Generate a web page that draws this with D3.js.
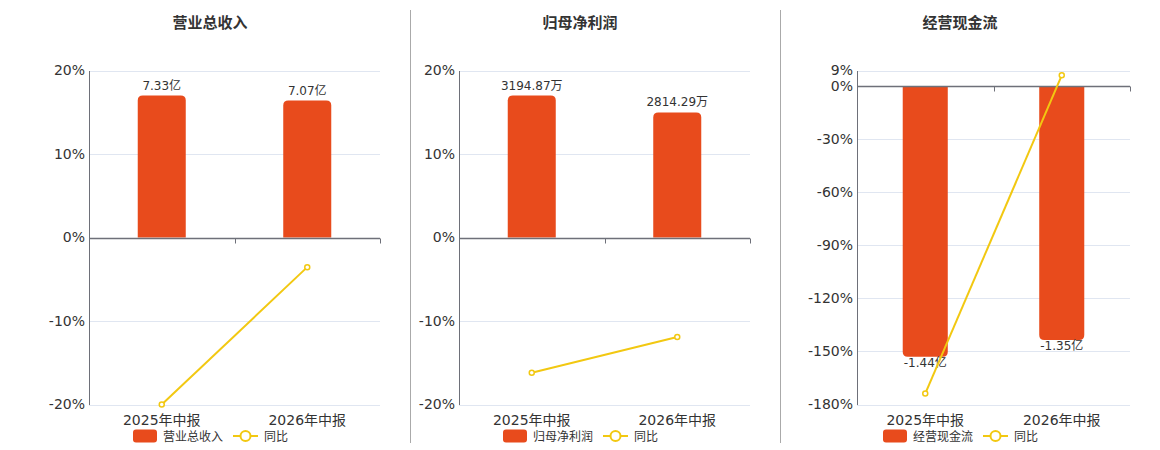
<!DOCTYPE html>
<html><head><meta charset="utf-8">
<script src="https://cdn.jsdelivr.net/npm/d3@7/dist/d3.min.js"></script>
<style>
html,body{margin:0;padding:0;background:#fff;}
svg{display:block;font-family:"DejaVu Sans","Noto Sans CJK SC",sans-serif;}
</style></head>
<body><svg id="c" width="1160" height="450"></svg>
<script>
const categories = ["2025年中报", "2026年中报"];
const titles = ["营业总收入", "归母净利润", "经营现金流"];
const barValues1 = [7.33, 7.07];
const barValues2 = [3194.87, 2814.29];
const barValues3 = [-1.44, -1.35];
const barLabels1 = ["7.33亿", "7.07亿"];
const barLabels2 = ["3194.87万", "2814.29万"];
const barLabels3 = ["-1.44亿", "-1.35亿"];
const yoy1 = [-20.0, -3.55];
const yoy2 = [-16.2, -11.91];
const yoy3 = [-173.8, 6.25];
const ticks1 = [20, 10, 0, -10, -20];
const ticks2 = [20, 10, 0, -10, -20];
const ticks3 = [9, 0, -30, -60, -90, -120, -150, -180];
const legendYoy = "同比";

const panels = [
  {title: titles[0], bars: barValues1, labels: barLabels1, yoy: yoy1, ticks: ticks1, left: 89, right: 380, cx: 210},
  {title: titles[1], bars: barValues2, labels: barLabels2, yoy: yoy2, ticks: ticks2, left: 459, right: 750, cx: 580},
  {title: titles[2], bars: barValues3, labels: barLabels3, yoy: yoy3, ticks: ticks3, left: 857, right: 1130, cx: 960}
];

const BAR = "#e84b1c", LINE = "#f2c811", TXT = "#333", GRID = "#e0e6f1", AXIS = "#6e7079";
const svg = d3.select("#c");
const plotTop = 70.5, plotBottom = 404.5;

// separators
[410.5, 780.5].forEach(x => svg.append("line").attr("x1", x).attr("x2", x).attr("y1", 10).attr("y2", 443).attr("stroke", "#aaa").attr("stroke-width", 1));

panels.forEach(p => {
  const g = svg.append("g");
  const tmin = d3.min(p.ticks), tmax = d3.max(p.ticks);
  const y = d3.scaleLinear().domain([tmin, tmax]).range([plotBottom, plotTop]);
  const x = d3.scaleBand().domain(categories).range([p.left, p.right]).paddingInner(0.67).paddingOuter(0.335);
  const xc = d3.scaleBand().domain(categories).range([p.left, p.right]);
  const maxAbs = d3.max(p.bars, d => Math.abs(d));
  const neg = p.bars[0] < 0;
  const yb = d3.scaleLinear().domain([0, (neg ? -1 : 1) * maxAbs / 0.85]).range([y(0), y(neg ? tmin : tmax)]);

  // title
  g.append("text").attr("x", p.cx).attr("y", 28).attr("text-anchor", "middle").attr("font-size", 15).attr("font-weight", "bold").attr("fill", TXT).text(p.title);

  // grid
  g.selectAll(".grid").data(p.ticks.filter(t => t !== 0)).enter().append("line")
    .attr("x1", p.left).attr("x2", p.right).attr("y1", d => Math.round(y(d)) + 0.5).attr("y2", d => Math.round(y(d)) + 0.5)
    .attr("stroke", GRID).attr("stroke-width", 1);

  // y axis
  const yAxis = d3.axisLeft(y).tickValues(p.ticks).tickFormat(d => d + "%").tickSize(0).tickPadding(4);
  const ya = g.append("g").attr("transform", `translate(${p.left},0)`).call(yAxis);
  ya.select(".domain").attr("stroke", AXIS);
  ya.selectAll("text").attr("font-size", 14).attr("fill", TXT).attr("font-family", "DejaVu Sans");

  // bars
  const r = 5;
  p.bars.forEach((v, i) => {
    const bx = x(categories[i]), bw = x.bandwidth();
    const y0 = yb(0), y1 = yb(v);
    let path;
    if (v >= 0) {
      path = `M${bx},${y0} L${bx},${y1 + r} Q${bx},${y1} ${bx + r},${y1} L${bx + bw - r},${y1} Q${bx + bw},${y1} ${bx + bw},${y1 + r} L${bx + bw},${y0} Z`;
    } else {
      path = `M${bx},${y0} L${bx},${y1 - r} Q${bx},${y1} ${bx + r},${y1} L${bx + bw - r},${y1} Q${bx + bw},${y1} ${bx + bw},${y1 - r} L${bx + bw},${y0} Z`;
    }
    g.append("path").attr("d", path).attr("fill", BAR);
    g.append("text").attr("x", bx + bw / 2).attr("y", v >= 0 ? y1 - 6 : y1 + 10)
      .attr("text-anchor", "middle").attr("font-size", 12).attr("fill", TXT).text(p.labels[i]);
  });

  // zero axis line with ticks
  const zy = Math.round(y(0)) + 0.5;
  g.append("line").attr("x1", p.left).attr("x2", p.right).attr("y1", zy).attr("y2", zy).attr("stroke", AXIS).attr("stroke-width", 1.5);
  const bounds = [xc(categories[1]), p.right];
  bounds.forEach(bx => g.append("line").attr("x1", Math.round(bx) + 0.5).attr("x2", Math.round(bx) + 0.5).attr("y1", zy).attr("y2", zy + 5).attr("stroke", AXIS));

  // x labels
  categories.forEach(c => g.append("text").attr("x", xc(c) + xc.bandwidth() / 2).attr("y", 425).attr("text-anchor", "middle").attr("font-size", 14).attr("fill", TXT).text(c));

  // yoy line
  const line = d3.line().x((d, i) => xc(categories[i]) + xc.bandwidth() / 2).y(d => y(d));
  g.append("path").datum(p.yoy).attr("d", line).attr("fill", "none").attr("stroke", LINE).attr("stroke-width", 2);
  g.selectAll(".pt").data(p.yoy).enter().append("circle")
    .attr("cx", (d, i) => xc(categories[i]) + xc.bandwidth() / 2).attr("cy", d => y(d)).attr("r", 2.5)
    .attr("fill", "#fff").attr("stroke", LINE).attr("stroke-width", 1.5);

  // legend
  const lx = p.cx - 77, ly = 436;
  g.append("rect").attr("x", lx).attr("y", ly - 6.5).attr("width", 24).attr("height", 13).attr("rx", 3).attr("fill", BAR);
  g.append("text").attr("x", lx + 30).attr("y", ly + 4.5).attr("font-size", 12).attr("fill", TXT).text(p.title);
  const l2 = lx + 100;
  g.append("line").attr("x1", l2).attr("x2", l2 + 25).attr("y1", ly).attr("y2", ly).attr("stroke", LINE).attr("stroke-width", 2);
  g.append("circle").attr("cx", l2 + 12.5).attr("cy", ly).attr("r", 5).attr("fill", "#fff").attr("stroke", LINE).attr("stroke-width", 2);
  g.append("text").attr("x", l2 + 31).attr("y", ly + 4.5).attr("font-size", 12).attr("fill", TXT).text(legendYoy);
});
</script></body></html>
